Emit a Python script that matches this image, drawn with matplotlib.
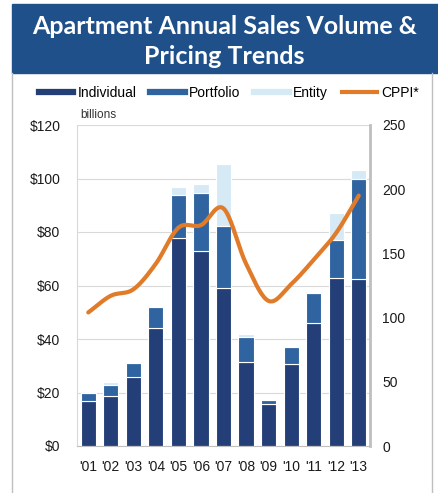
import matplotlib
matplotlib.use("Agg")
import matplotlib.pyplot as plt
import numpy as np
from matplotlib.lines import Line2D
from matplotlib.patches import Rectangle

years = ["'01", "'02", "'03", "'04", "'05", "'06", "'07", "'08", "'09", "'10", "'11", "'12", "'13"]
individual = [16.8, 18.6, 25.9, 44.2, 77.6, 72.9, 59.1, 31.4, 15.6, 30.8, 46.1, 62.9, 62.5]
portfolio = [2.9, 4.1, 5.2, 7.6, 16.1, 21.6, 23.0, 9.3, 1.6, 6.2, 11.1, 14.0, 37.4]
entity = [0.3, 1.1, 0.3, 0.3, 3.1, 3.6, 23.3, 1.2, 0.4, 0.2, 0.3, 10.3, 3.1]
cppi = [104, 117, 122, 142, 170, 172, 185, 142, 113, 126, 145, 166, 195]

C_IND = "#243f77"
C_PORT = "#2f64a0"
C_ENT = "#d6eaf6"
C_CPPI = "#e07b2a"
BANNER = "#1f5089"

plt.rcParams["font.family"] = ["Liberation Sans", "DejaVu Sans"]

fig = plt.figure(figsize=(4.38, 4.93), dpi=100)

# title banner and frame
fig.patches.append(Rectangle((12 / 438, 1 - 73 / 493), 1 - 12 / 438, 69 / 493,
                             transform=fig.transFigure, color=BANNER, zorder=0))
fig.add_artist(Line2D([12 / 438, 12 / 438], [0, 1 - 73 / 493], color="#bfbfbf", lw=1))
fig.add_artist(Line2D([432 / 438, 432 / 438], [0, 1 - 73 / 493], color="#bfbfbf", lw=1))
fig.text(0.513, 1 - 27 / 493, "Apartment Annual Sales Volume &", color="white",
         fontsize=18, fontweight="bold", family="Lato", ha="center", va="center")
fig.text(0.513, 1 - 57 / 493, "Pricing Trends", color="white",
         fontsize=18, fontweight="bold", family="Lato", ha="center", va="center")

ax = fig.add_axes([77 / 438, 1 - 446 / 493, 293 / 438, 321 / 493])
x = np.arange(len(years))
w = 0.67
ind_arr = np.array(individual)
port_arr = np.array(portfolio)
ax.bar(x, individual, w, color=C_IND, edgecolor="white", linewidth=0.8, zorder=2)
ax.bar(x, portfolio, w, bottom=ind_arr, color=C_PORT, edgecolor="white", linewidth=0.8, zorder=2)
ax.bar(x, entity, w, bottom=ind_arr + port_arr, color=C_ENT, edgecolor="white", linewidth=0.8, zorder=2)

ax.set_ylim(0, 120)
ax.set_xlim(-0.5, len(years) - 0.5)
ax.set_yticks(range(0, 121, 20))
ax.set_yticklabels([f"${v}" for v in range(0, 121, 20)])
ax.set_xticks(x)
ax.set_xticklabels(years)
ax.yaxis.grid(True, color="#d9d9d9", lw=0.8, zorder=0)
ax.set_axisbelow(True)
ax.tick_params(length=0, labelsize=10, colors="#1a1a1a")
ax.tick_params(axis="x", pad=10)
ax.tick_params(axis="y", pad=12)
ax.spines["top"].set_visible(False)
ax.spines["left"].set_color("#d9d9d9")
ax.spines["bottom"].set_color("#bfbfbf")
ax.spines["right"].set_visible(False)
ax.text(0.012, 1.012, "billions", transform=ax.transAxes, fontsize=8.5, color="#333333",
        ha="left", va="bottom")

ax2 = ax.twinx()
ax2.set_ylim(0, 250)
ax2.set_yticks(range(0, 251, 50))
ax2.tick_params(length=0, labelsize=10, colors="#1a1a1a", pad=9)
for s in ["top", "left", "bottom"]:
    ax2.spines[s].set_visible(False)
ax2.spines["right"].set_color("#bfbfbf")
ax2.spines["right"].set_linewidth(2)

# smooth curve through the CPPI points (Catmull-Rom)
pts = np.column_stack([x, cppi]).astype(float)
ext = np.vstack([2 * pts[0] - pts[1], pts, 2 * pts[-1] - pts[-2]])
t = np.linspace(0, 1, 20)[:, None]
curve = []
for i in range(1, len(ext) - 2):
    p0, p1, p2, p3 = ext[i - 1], ext[i], ext[i + 1], ext[i + 2]
    seg = 0.5 * ((2 * p1) + (-p0 + p2) * t + (2 * p0 - 5 * p1 + 4 * p2 - p3) * t ** 2
                 + (-p0 + 3 * p1 - 3 * p2 + p3) * t ** 3)
    curve.append(seg)
curve = np.vstack(curve)
ax2.plot(curve[:, 0], curve[:, 1], color=C_CPPI, lw=3, solid_capstyle="round", zorder=3)

handles = [Line2D([0], [0], color=C_IND, lw=4.5),
           Line2D([0], [0], color=C_PORT, lw=4.5),
           Line2D([0], [0], color=C_ENT, lw=4.5),
           Line2D([0], [0], color=C_CPPI, lw=3)]
fig.legend(handles, ["Individual", "Portfolio", "Entity", "CPPI*"], loc="center",
           bbox_to_anchor=(0.522, 1 - 93 / 493), ncol=4, frameon=False, fontsize=10,
           handlelength=2.5, handletextpad=0.3, columnspacing=1.0)

fig.savefig("out.png", dpi=100)
